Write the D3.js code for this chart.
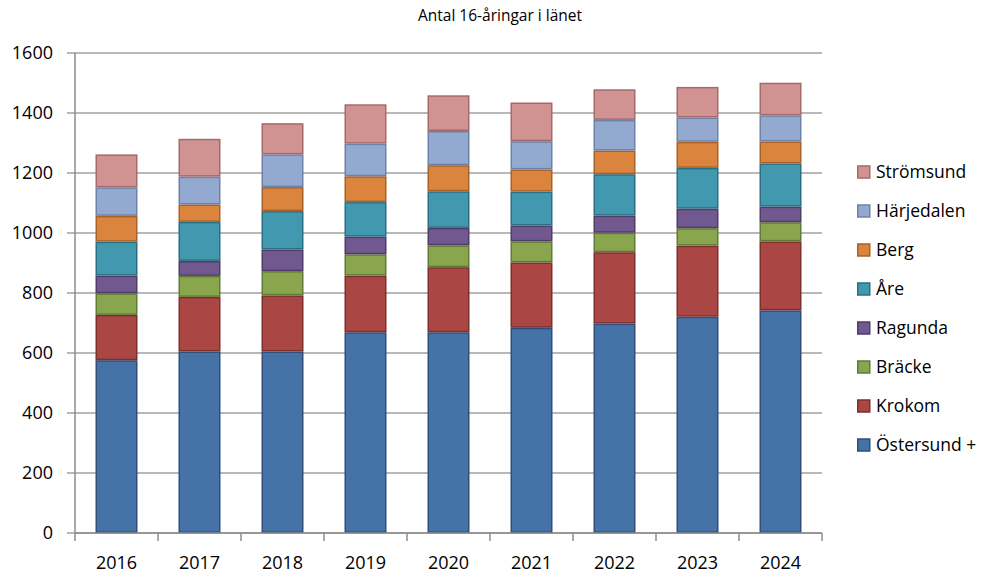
<!DOCTYPE html>
<html>
<head>
<meta charset="utf-8">
<title>Antal 16-åringar i länet</title>
<script src="https://d3js.org/d3.v7.min.js"></script>
<style>
body { margin: 0; background: #fff; }
text { font-family: "Open Sans", "Liberation Sans", sans-serif; fill: #000; }
</style>
</head>
<body>
<div id="chart"></div>
<script>

//------------------------------ DATA ------------------------------//
var years = ["2016", "2017", "2018", "2019", "2020", "2021", "2022", "2023", "2024"];

var ostersund = [576, 605, 605, 669, 669, 684, 698, 721, 742];
var krokom    = [151, 182, 187, 189, 217, 218, 238, 237, 230];
var bracke    = [ 72,  70,  81,  71,  73,  70,  65,  58,  64];
var ragunda   = [ 59,  50,  72,  59,  58,  53,  57,  65,  52];
var are       = [113, 130, 128, 115, 122, 113, 138, 136, 144];
var berg      = [ 86,  58,  80,  86,  87,  74,  79,  87,  73];
var harjedalen= [ 95,  93, 109, 109, 114,  94, 102,  81,  87];
var stromsund = [110, 126, 104, 131, 119, 129, 102, 102, 109];

var seriesNames = ["Östersund +", "Krokom", "Bräcke", "Ragunda", "Åre", "Berg", "Härjedalen", "Strömsund"];
var seriesValues = [ostersund, krokom, bracke, ragunda, are, berg, harjedalen, stromsund];
var yTicks = [0, 200, 400, 600, 800, 1000, 1200, 1400, 1600];

var fills   = ["#4572a7", "#aa4643", "#89a54e", "#71588f", "#4198af", "#db843d", "#93a9cf", "#d19392"];
var strokes = ["#2f4f7a", "#7d2f2d", "#617a36", "#4f3d69", "#2b6f82", "#a9612a", "#6d82a8", "#a46a69"];

//------------------------------ SETUP -----------------------------//
var W = 982, H = 574;
var plotL = 75, plotR = 822, plotT = 53, plotB = 533;

var svg = d3.select("#chart").append("svg")
    .attr("width", W)
    .attr("height", H);

var table = years.map(function(yr, i) {
    var row = { year: yr };
    seriesNames.forEach(function(n, j) { row[n] = seriesValues[j][i]; });
    return row;
});
var stacked = d3.stack().keys(seriesNames)(table);

var x = d3.scaleBand().domain(years).range([plotL, plotR])
    .paddingInner(0.494).paddingOuter(0.247);
var y = d3.scaleLinear().domain([0, 1600]).range([plotB, plotT]);

//------------------------------ GRID ------------------------------//
svg.append("g")
    .selectAll("line")
    .data(yTicks)
    .enter()
    .append("line")
    .attr("x1", plotL - 8)
    .attr("x2", plotR)
    .attr("y1", function(d) { return y(d); })
    .attr("y2", function(d) { return y(d); })
    .attr("stroke", "#a0a0a0")
    .attr("stroke-width", 1.3);

svg.append("g")
    .selectAll("text")
    .data(yTicks)
    .enter()
    .append("text")
    .attr("x", 53)
    .attr("y", function(d) { return y(d); })
    .attr("dy", "0.36em")
    .attr("text-anchor", "end")
    .style("font-size", "18px")
    .text(function(d) { return d; });

//------------------------------ BARS ------------------------------//
var groups = svg.append("g")
    .selectAll("g")
    .data(stacked)
    .enter()
    .append("g")
    .attr("fill", function(d, i) { return fills[i]; })
    .attr("stroke", function(d, i) { return strokes[i]; });

groups.selectAll("rect")
    .data(function(d) { return d; })
    .enter()
    .append("rect")
    .attr("x", function(d) { return x(d.data.year) + 0.75; })
    .attr("width", x.bandwidth() - 1.5)
    .attr("y", function(d) { return y(d[1]) + 0.75; })
    .attr("height", function(d) { return Math.max(0, y(d[0]) - y(d[1]) - 1.5); })
    .attr("stroke-width", 1.5);

//------------------------------ AXES ------------------------------//
svg.append("line")
    .attr("x1", plotL).attr("x2", plotL)
    .attr("y1", plotT).attr("y2", plotB)
    .attr("stroke", "#8c8c8c").attr("stroke-width", 1.5);

svg.append("line")
    .attr("x1", plotL).attr("x2", plotR)
    .attr("y1", plotB).attr("y2", plotB)
    .attr("stroke", "#8c8c8c").attr("stroke-width", 1.5);

var step = x.step();
svg.append("g")
    .selectAll("line")
    .data(d3.range(years.length + 1))
    .enter()
    .append("line")
    .attr("x1", function(i) { return plotL + i * step; })
    .attr("x2", function(i) { return plotL + i * step; })
    .attr("y1", plotB)
    .attr("y2", plotB + 8)
    .attr("stroke", "#8c8c8c").attr("stroke-width", 1.5);

svg.append("g")
    .selectAll("text")
    .data(years)
    .enter()
    .append("text")
    .attr("x", function(d) { return x(d) + x.bandwidth() / 2; })
    .attr("y", 569)
    .attr("text-anchor", "middle")
    .style("font-size", "18px")
    .text(function(d) { return d; });

//------------------------------ TITLE -----------------------------//
svg.append("text")
    .attr("x", 500)
    .attr("y", 21)
    .attr("text-anchor", "middle")
    .style("font-size", "15.5px")
    .text("Antal 16-åringar i länet");

//------------------------------ LEGEND ----------------------------//
var legend = svg.append("g")
    .selectAll("g")
    .data(seriesNames.slice().reverse())
    .enter()
    .append("g")
    .attr("transform", function(d, i) { return "translate(857," + (172 + i * 39) + ")"; });

legend.append("rect")
    .attr("x", 0.75)
    .attr("y", -6)
    .attr("width", 12)
    .attr("height", 12)
    .attr("fill", function(d) { return fills[seriesNames.indexOf(d)]; })
    .attr("stroke", function(d) { return strokes[seriesNames.indexOf(d)]; })
    .attr("stroke-width", 1.5);

legend.append("text")
    .attr("x", 19)
    .attr("y", 0)
    .attr("dy", "0.36em")
    .style("font-size", "17.5px")
    .text(function(d) { return d; });

</script>
</body>
</html>
